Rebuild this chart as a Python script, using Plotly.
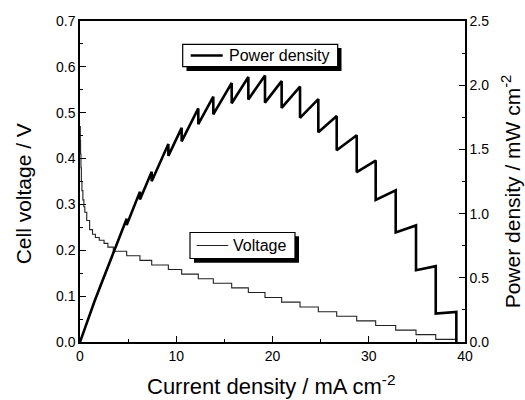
import plotly.graph_objects as go

# ---- data ----
# Voltage curve (step-wise), current in mA cm-2, voltage in V
v_current = [0.0, 0.03, 0.06, 0.1, 0.14, 0.2, 0.3, 0.4, 0.5, 0.7, 1.0, 1.3, 1.6, 2.0, 2.5, 2.9,
             3.46, 4.85, 6.23, 7.45, 9.18, 10.56, 12.29, 13.85, 15.76, 17.49, 19.22, 20.95,
             22.86, 24.76, 26.67, 28.75, 30.72, 32.8, 34.91, 36.96, 39.1]
v_voltage = [0.47, 0.44, 0.41, 0.38, 0.35, 0.33, 0.31, 0.295, 0.283, 0.265, 0.245, 0.235, 0.228, 0.222, 0.215, 0.207,
             0.198, 0.188, 0.178, 0.168, 0.158, 0.148, 0.138, 0.128, 0.118, 0.108, 0.097, 0.087,
             0.0764, 0.066, 0.056, 0.046, 0.036, 0.026, 0.016, 0.0058, 0.0058]

# Power density sawtooth vertices, mW cm-2
p_current = [0.0, 0.5, 1.0, 1.5, 2.04, 2.9, 3.46, 3.46, 4.85, 4.85, 6.23, 6.23, 7.45, 7.45,
             9.18, 9.18, 10.56, 10.56, 12.29, 12.29, 13.85, 13.85, 15.76, 15.76, 17.49, 17.49,
             19.22, 19.22, 20.95, 20.95, 22.86, 22.86, 24.76, 24.76, 26.67, 26.67, 28.75, 28.75,
             30.72, 30.72, 32.8, 32.8, 34.91, 34.91, 36.96, 36.96, 39.1, 39.1]
p_power = [0.0, 0.11, 0.215, 0.315, 0.42, 0.59, 0.70, 0.685, 0.960, 0.912, 1.171, 1.109, 1.326, 1.252,
           1.542, 1.450, 1.668, 1.563, 1.819, 1.696, 1.911, 1.773, 2.017, 1.860, 2.064, 1.889,
           2.076, 1.864, 2.032, 1.823, 1.989, 1.746, 1.892, 1.634, 1.760, 1.494, 1.610, 1.323,
           1.413, 1.106, 1.181, 0.853, 0.908, 0.559, 0.591, 0.221, 0.235, 0.0]

FONT = "Liberation Sans, Arial, sans-serif"

fig = go.Figure()
fig.add_trace(go.Scatter(x=v_current, y=v_voltage, mode="lines", line_shape="hv",
                         line=dict(color="#222222", width=1.1), name="Voltage",
                         showlegend=False, yaxis="y"))
fig.add_trace(go.Scatter(x=p_current, y=p_power, mode="lines",
                         line=dict(color="black", width=2.6), name="Power density",
                         showlegend=False, yaxis="y2"))

axis_common = dict(showline=True, linecolor="black", linewidth=1.5, ticks="inside",
                   tickcolor="black", ticklen=6, tickwidth=1.3, showgrid=False, zeroline=False,
                   tickfont=dict(family=FONT, size=14, color="black"))

fig.update_layout(
    width=525, height=400,
    margin=dict(l=80, r=60, t=21, b=58),
    paper_bgcolor="white", plot_bgcolor="white",
    xaxis=dict(range=[0, 40], dtick=10, mirror=True,
               minor=dict(ticks="inside", dtick=5, ticklen=3.5, tickcolor="black", tickwidth=1.2),
               **axis_common),
    yaxis=dict(range=[0, 0.7], dtick=0.1, tickformat=".1f",
               minor=dict(ticks="inside", dtick=0.05, ticklen=3.5, tickcolor="black", tickwidth=1.2),
               **axis_common),
    yaxis2=dict(range=[0, 2.5], dtick=0.5, tickformat=".1f", overlaying="y", side="right",
                minor=dict(ticks="inside", dtick=0.25, ticklen=3.5, tickcolor="black", tickwidth=1.2),
                **axis_common),
)

# px -> data helpers for legend boxes (plot area: x 80..465 px, y 21..341.7 px)
def dx(px):
    return (px - 80) / 9.625

def dy(py):
    return (341.7 - py) / 458.1

shapes = [
    # Power density legend: shadow, box, line sample
    dict(type="rect", xref="x", yref="y", x0=dx(186.5), x1=dx(341.5), y0=dy(71), y1=dy(48),
         fillcolor="black", line=dict(width=0)),
    dict(type="rect", xref="x", yref="y", x0=dx(182.7), x1=dx(337.7), y0=dy(66.7), y1=dy(44.3),
         fillcolor="white", line=dict(color="black", width=1.2)),
    dict(type="line", xref="x", yref="y", x0=dx(190.7), x1=dx(222.7), y0=dy(55.5), y1=dy(55.5),
         line=dict(color="black", width=2.6)),
    # Voltage legend
    dict(type="rect", xref="x", yref="y", x0=dx(194), x1=dx(299), y0=dy(262.5), y1=dy(236),
         fillcolor="black", line=dict(width=0)),
    dict(type="rect", xref="x", yref="y", x0=dx(190), x1=dx(295), y0=dy(258.3), y1=dy(232.3),
         fillcolor="white", line=dict(color="black", width=1.2)),
    dict(type="line", xref="x", yref="y", x0=dx(196.7), x1=dx(228.3), y0=dy(245.3), y1=dy(245.3),
         line=dict(color="#222222", width=1.1)),
]
fig.update_layout(shapes=shapes)

annotations = [
    dict(text="Power density", xref="x", yref="y", x=dx(226.5), y=dy(55.5), xanchor="left",
         yanchor="middle", showarrow=False, font=dict(family=FONT, size=16, color="black")),
    dict(text="Voltage", xref="x", yref="y", x=dx(230.5), y=dy(245.3), xanchor="left",
         yanchor="middle", showarrow=False, font=dict(family=FONT, size=16, color="black")),
    dict(text="Current density / mA cm<sup>-2</sup>", xref="paper", yref="paper", x=0.495, y=-0.088,
         xanchor="center", yanchor="top", showarrow=False, borderpad=0,
         font=dict(family=FONT, size=22, color="black")),
    dict(text="Cell voltage / V", xref="paper", yref="paper", x=-0.148, y=0.46, textangle=-90,
         xanchor="center", yanchor="middle", showarrow=False, font=dict(family=FONT, size=21, color="black")),
    dict(text="Power density / mW cm<sup>-2</sup>", xref="paper", yref="paper", x=1.12, y=0.47, textangle=-90,
         xanchor="center", yanchor="middle", showarrow=False, font=dict(family=FONT, size=21, color="black")),
]
fig.update_layout(annotations=annotations)

fig.write_html("out.html", config={"displayModeBar": False},
               post_script="document.body.style.margin='0';document.body.style.padding='0';")
